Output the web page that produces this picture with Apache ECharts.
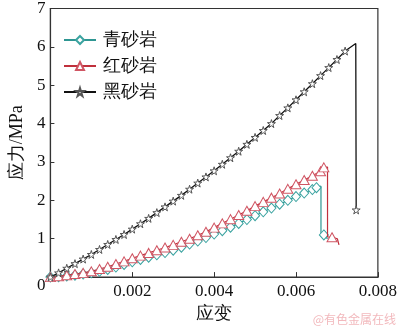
<!DOCTYPE html>
<html>
<head>
<meta charset="utf-8">
<script src="https://cdn.jsdelivr.net/npm/echarts@6/dist/echarts.min.js"></script>
<style>
html,body{margin:0;padding:0;background:#fff;}
#chart{width:400px;height:328px;}
</style>
</head>
<body>
<div id="chart"></div>
<script>
// Stress–strain curves of three sandstones (uniaxial compression)
const seriesNames = ['青砂岩', '红砂岩', '黑砂岩'];

// strain sampled every 0.0002 along the loading branch
const loadStrain = [0, 0.0002, 0.0004, 0.0006, 0.0008, 0.0010, 0.0012, 0.0014, 0.0016, 0.0018,
  0.0020, 0.0022, 0.0024, 0.0026, 0.0028, 0.0030, 0.0032, 0.0034, 0.0036, 0.0038,
  0.0040, 0.0042, 0.0044, 0.0046, 0.0048, 0.0050, 0.0052, 0.0054, 0.0056, 0.0058,
  0.0060, 0.0062, 0.0064, 0.0066, 0.0068, 0.0070, 0.0072];

// 青砂岩 (cyan sandstone)
const cyanStress = [0, 0.01, 0.03, 0.05, 0.08, 0.11, 0.15, 0.20, 0.26, 0.33,
  0.40, 0.46, 0.52, 0.58, 0.64, 0.70, 0.78, 0.86, 0.94, 1.03,
  1.12, 1.21, 1.30, 1.40, 1.50, 1.60, 1.70, 1.80, 1.90, 2.00,
  2.10, 2.19, 2.28];
// peak and post-peak points: [strain, stress, marker shown]
const cyanTail = [[0.0065, 2.33, true], [0.00661, 2.37, false], [0.00661, 1.14, false], [0.00668, 1.10, true], [0.00677, 1.00, false]];

// 红砂岩 (red sandstone)
const redStress = [0, 0.02, 0.05, 0.08, 0.11, 0.15, 0.21, 0.27, 0.34, 0.41,
  0.49, 0.56, 0.63, 0.70, 0.77, 0.84, 0.92, 1.00, 1.09, 1.18,
  1.29, 1.40, 1.51, 1.62, 1.73, 1.85, 1.96, 2.07, 2.18, 2.30,
  2.42, 2.53, 2.64, 2.76];
const redTail = [[0.00668, 2.86, true], [0.00677, 2.87, false], [0.00677, 1.05, false], [0.00688, 1.04, true], [0.00701, 1.00, false], [0.00705, 0.84, false]];

// 黑砂岩 (black sandstone)
const blackStress = [0, 0.11, 0.23, 0.35, 0.47, 0.59, 0.72, 0.85, 0.98, 1.11,
  1.25, 1.39, 1.53, 1.68, 1.83, 1.98, 2.13, 2.29, 2.45, 2.61,
  2.77, 2.94, 3.11, 3.28, 3.46, 3.64, 3.82, 4.00, 4.21, 4.41,
  4.62, 4.83, 5.04, 5.25, 5.46, 5.67, 5.89];
const blackTail = [[0.00746, 6.09, false], [0.00747, 1.75, true]];

const xTicks = [0, 0.002, 0.004, 0.006, 0.008];
const yTicks = [0, 1, 2, 3, 4, 5, 6, 7];

function build(stress, tail) {
  const pts = stress.map((s, i) => [loadStrain[i], s]);
  tail.forEach(t => {
    pts.push(t[2] ? [t[0], t[1]] : { value: [t[0], t[1]], symbol: 'none' });
  });
  return pts;
}

const serif = 'Liberation Serif';

const chart = echarts.init(document.getElementById('chart'), null, { renderer: 'canvas' });

chart.setOption({
  animation: false,
  backgroundColor: '#fff',
  textStyle: { fontFamily: serif, fontSize: 17, color: '#111' },
  grid: {
    left: 41, right: 15, top: 5, bottom: 47,
    show: true, borderColor: '#333', borderWidth: 1.2, backgroundColor: 'transparent'
  },
  legend: {
    orient: 'vertical',
    left: 58, top: 26,
    itemWidth: 32, itemHeight: 10, itemGap: 8,
    textStyle: { fontFamily: serif, fontSize: 18, color: '#111', padding: [0, 0, 0, 2] },
    data: seriesNames
  },
  xAxis: {
    type: 'value',
    min: 0, max: 0.008, interval: 0.002,
    name: '应变',
    nameLocation: 'middle', nameGap: 25,
    nameTextStyle: { fontFamily: serif, fontSize: 18, color: '#111' },
    axisLine: { lineStyle: { color: '#333', width: 1.2 } },
    axisTick: { inside: true, length: 5, lineStyle: { color: '#333' } },
    axisLabel: {
      margin: 6, fontFamily: serif, fontSize: 17, color: '#111',
      formatter: v => (v === 0 ? '' : xTicks.indexOf(v) >= 0 ? v.toFixed(3) : '')
    },
    splitLine: { show: false }
  },
  yAxis: {
    type: 'value',
    min: 0, max: 7, interval: 1,
    name: '应力/MPa',
    nameLocation: 'middle', nameGap: 22,
    nameTextStyle: { fontFamily: serif, fontSize: 18, color: '#111' },
    axisLine: { lineStyle: { color: '#333', width: 1.2 } },
    axisTick: { inside: true, length: 4, lineStyle: { color: '#333' } },
    axisLabel: {
      margin: 5, fontFamily: serif, fontSize: 17, color: '#111',
      formatter: v => (v === 0 ? '{z|0}' : String(yTicks[v])),
      rich: { z: { fontFamily: serif, fontSize: 17, color: '#111', padding: [16, 0, 0, 0] } }
    },
    splitLine: { show: false }
  },
  series: [
    {
      name: seriesNames[0], type: 'line', data: build(cyanStress, cyanTail),
      symbol: 'diamond', symbolSize: [9, 10], showAllSymbol: true,
      lineStyle: { color: '#2e9692', width: 1.2 },
      itemStyle: { color: '#ffffff', borderColor: '#3aa3a0', borderWidth: 1 },
      z: 2
    },
    {
      name: seriesNames[1], type: 'line', data: build(redStress, redTail),
      symbol: 'triangle', symbolSize: [10, 9], showAllSymbol: true,
      lineStyle: { color: '#c0303c', width: 1.2 },
      itemStyle: { color: '#ffffff', borderColor: '#d05563', borderWidth: 1 },
      z: 3
    },
    {
      name: seriesNames[2], type: 'line', data: build(blackStress, blackTail),
      symbol: 'path://M50,0 L61,35 L98,35 L68,57 L79,92 L50,71 L21,92 L32,57 L2,35 L39,35 Z',
      symbolSize: 8, showAllSymbol: true,
      lineStyle: { color: '#111', width: 1.3 },
      itemStyle: { color: '#ffffff', borderColor: '#555', borderWidth: 1 },
      z: 4
    }
  ],
  graphic: [{
    type: 'text', right: 4, bottom: 3,
    style: { text: '@有色金属在线', fontFamily: 'Noto Sans CJK SC', fontSize: 12, fill: '#f2b9bd' }
  }]
});
</script>
</body>
</html>
